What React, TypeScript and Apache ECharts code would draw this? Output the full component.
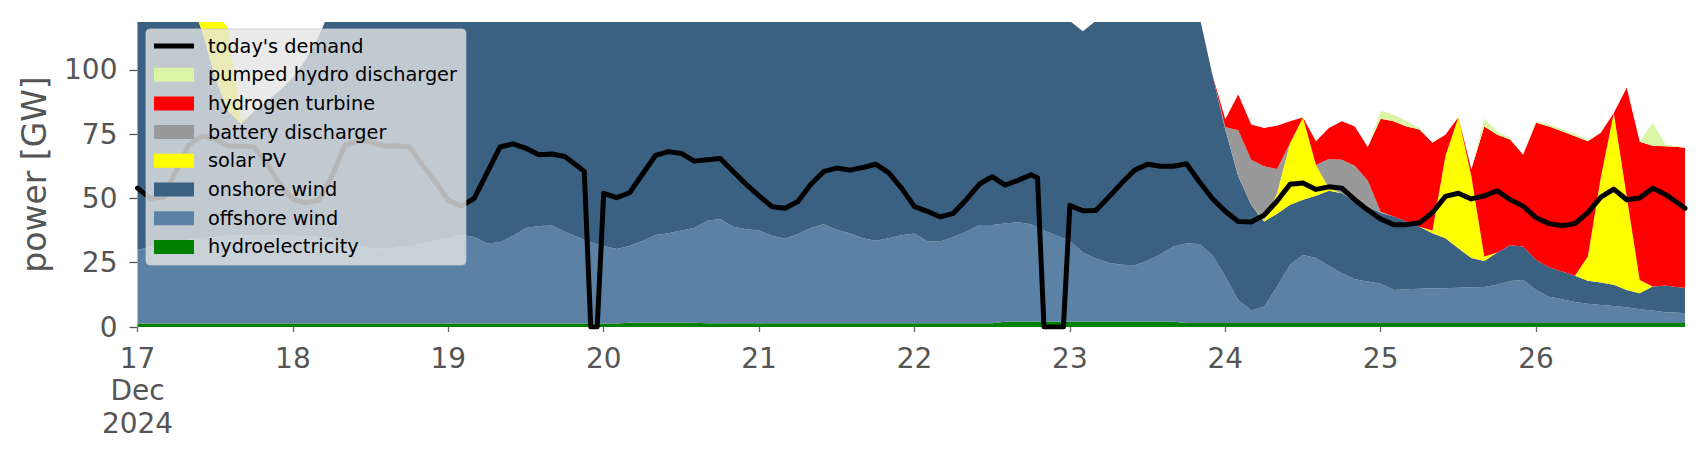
import React, { useEffect, useRef } from "react";
import * as echarts from "echarts";

// hours since 17 Dec 2024 00:00 (2-hourly samples, last one at 26 Dec 23:00)
const hours = [
  0, 2, 4, 6, 8, 10, 12, 14, 16, 18, 20, 22, 24, 26, 28, 30, 32, 34, 36, 38,
  40, 42, 44, 46, 48, 50, 52, 54, 56, 58, 60, 62, 64, 66, 68, 70, 72, 74, 76, 78,
  80, 82, 84, 86, 88, 90, 92, 94, 96, 98, 100, 102, 104, 106, 108, 110, 112, 114, 116, 118,
  120, 122, 124, 126, 128, 130, 132, 134, 136, 138, 140, 142, 144, 146, 148, 150, 152, 154, 156, 158,
  160, 162, 164, 166, 168, 170, 172, 174, 176, 178, 180, 182, 184, 186, 188, 190, 192, 194, 196, 198,
  200, 202, 204, 206, 208, 210, 212, 214, 216, 218, 220, 222, 224, 226, 228, 230, 232, 234, 236, 238,
  239,
];

const hydro = [
  1.4, 1.4, 1.4, 1.4, 1.4, 1.4, 1.4, 1.4, 1.4, 1.4, 1.4, 1.4, 1.4, 1.4, 1.4, 1.4, 1.4, 1.4, 1.4, 1.4,
  1.4, 1.4, 1.4, 1.4, 1.4, 1.4, 1.4, 1.4, 1.4, 1.4, 1.4, 1.4, 1.4, 1.4, 1.4, 1.4, 1.4, 1.4, 1.7, 1.7,
  1.7, 1.7, 1.7, 1.7, 1.5, 1.5, 1.5, 1.5, 1.5, 1.5, 1.5, 1.5, 1.5, 1.5, 1.5, 1.5, 1.5, 1.5, 1.5, 1.5,
  1.5, 1.5, 1.5, 1.5, 1.5, 1.5, 1.5, 2.0, 2.0, 2.0, 2.0, 2.0, 2.0, 2.0, 2.0, 2.0, 2.0, 2.0, 2.0, 2.0,
  2.0, 1.6, 1.6, 1.6, 1.6, 1.6, 1.6, 1.6, 1.6, 1.6, 1.6, 1.6, 1.6, 1.6, 1.6, 1.6, 1.6, 1.6, 1.6, 1.6,
  1.6, 1.6, 1.6, 1.6, 1.6, 1.6, 1.6, 1.6, 1.6, 1.6, 1.6, 1.6, 1.6, 1.6, 1.6, 1.6, 1.6, 1.6, 1.6, 1.6,
  1.6,
];

const offshoreWind = [
  28.6, 29.6, 30.6, 31.6, 32.6, 33.1, 33.6, 34.1, 34.4, 34.4,
  34.2, 34.1, 34.1, 33.9, 33.6, 33.1, 31.6, 30.1, 29.3, 29.1,
  29.4, 30.1, 31.1, 32.1, 33.1, 34.4, 33.6, 31.1, 31.6, 34.1,
  37.1, 37.9, 38.1, 35.6, 33.6, 31.6, 30.1, 28.9, 29.8, 31.8,
  34.1, 34.8, 35.8, 36.8, 39.8, 40.5, 37.5, 36.5, 36.0, 34.0,
  32.8, 34.7, 37.0, 38.5, 36.3, 35.0, 33.0, 32.0, 33.0, 34.2,
  34.9, 31.7, 31.7, 33.5, 35.5, 38.2, 38.2, 38.2, 38.7, 38.0,
  35.5, 33.5, 31.5, 27.0, 24.5, 23.0, 22.2, 22.0, 23.8, 26.3,
  29.3, 30.9, 30.7, 26.4, 18.0, 8.9, 4.8, 6.3, 14.1, 22.6,
  26.4, 25.2, 22.2, 19.3, 17.0, 16.1, 15.2, 12.8, 13.1, 13.3,
  13.5, 13.5, 13.7, 13.9, 14.0, 14.8, 16.3, 16.7, 12.8, 10.2,
  9.2, 8.1, 7.4, 7.0, 6.6, 6.1, 5.3, 4.8, 4.1, 3.9,
  3.7,
];

const onshoreWind = [
  120, 117, 113, 107, 94, 80.5, 62, 48.5, 43.2, 48.2,
  52.4, 56.5, 61.5, 68.7, 78, 90.5, 100, 108, 112, 115,
  118, 120, 121, 120, 118, 115, 113, 112, 110, 108,
  106, 105, 104, 104, 103, 103, 104, 106, 108, 110,
  112, 113, 113, 112, 110, 108, 108, 107, 106, 106,
  106, 105, 104, 103, 104, 105, 106, 107, 106, 104,
  102, 101, 100, 98, 96, 94, 93, 92, 90, 88,
  87, 86, 85.5, 86, 92.5, 110, 120, 126, 124, 120,
  114, 105.5, 88.7, 70.2, 57.2, 48.1, 41.1, 33.1, 28.3, 23.3,
  21.5, 24.2, 29.2, 31.1, 30.2, 29.2, 27.5, 28.6, 26.3, 24.1,
  21.4, 19.4, 15.3, 11.3, 10.1, 12.6, 13.9, 13.0, 11.7, 11.4,
  10.8, 10.2, 9.0, 8.7, 8.2, 6.7, 6.2, 9.3, 10.4, 10.0,
  10.0,
];

const solarPV = [
  0, 0, 0, 0.5, 3, 12, 26, 32, 1, 0,
  0, 0, 0, 0, 0, 0, 0, 0, 0, 0,
  0, 0, 0, 0, 0, 0, 0, 0, 0, 0,
  0, 0, 0, 0, 0, 0, 0, 0, 0, 0,
  0, 0, 0, 0, 0, 0, 0, 0, 0, 0,
  0, 0, 0, 0, 0, 0, 0, 0, 0, 0,
  0, 0, 0, 0, 0, 0, 0, 0, 0, 0,
  0, 0, 0, 0, 0, 0, 0, 0, 0, 0,
  0, 0, 0, 0, 0, 0, 0, 0.5, 8, 24,
  32, 12, 1, 0, 0, 0, 0, 0, 0, 0,
  1, 32, 51, 31.8, 1.7, 0, 0, 0, 0, 0,
  0, 0, 9.4, 40.9, 66.8, 36.4, 5.2, 0, 0, 0,
  0,
];

const batteryDischarger = [
  0, 0, 0, 0, 0, 0, 0, 0, 0, 0,
  0, 0, 0, 0, 0, 0, 0, 0, 0, 0,
  0, 0, 0, 0, 0, 0, 0, 0, 0, 0,
  0, 0, 0, 0, 0, 0, 0, 0, 0, 0,
  0, 0, 0, 0, 0, 0, 0, 0, 0, 0,
  0, 0, 0, 0, 0, 0, 0, 0, 0, 0,
  0, 0, 0, 0, 0, 0, 0, 0, 0, 0,
  0, 0, 0, 0, 0, 0, 0, 0, 0, 0,
  0, 0, 0, 0, 1, 17.9, 17.5, 21, 9.4, 0,
  0, 0, 11.3, 13, 13.9, 10.1, 0.5, 0, 0, 0,
  0, 0, 0, 0, 0, 0, 0, 0, 0, 0,
  0, 0, 0, 0, 0, 0, 0, 0, 0, 0,
  0,
];

const hydrogenTurbine = [
  0, 0, 0, 0, 0, 0, 0, 0, 0, 0,
  0, 0, 0, 0, 0, 0, 0, 0, 0, 0,
  0, 0, 0, 0, 0, 0, 0, 0, 0, 0,
  0, 0, 0, 0, 0, 0, 0, 0, 0, 0,
  0, 0, 0, 0, 0, 0, 0, 0, 0, 0,
  0, 0, 0, 0, 0, 0, 0, 0, 0, 0,
  0, 0, 0, 0, 0, 0, 0, 0, 0, 0,
  0, 0, 0, 0, 0, 0, 0, 0, 0, 0,
  0, 0, 0, 0, 3, 13.9, 13.7, 14.9, 16.9, 8.5,
  0, 9.2, 12.1, 15, 15.3, 13, 36.2, 37, 37, 37.8,
  34.1, 8.3, 0, 2.6, 50.6, 45.8, 41.1, 35.7, 53.3, 54.8,
  54.5, 54.3, 44.8, 17.3, 0, 42.2, 53.7, 54.8, 54.2, 54.5,
  54.3,
];

const pumpedHydro = [
  0, 0, 0, 0, 0, 0, 0, 0, 0, 0,
  0, 0, 0, 0, 0, 0, 0, 0, 0, 0,
  0, 0, 0, 0, 0, 0, 0, 0, 0, 0,
  0, 0, 0, 0, 0, 0, 0, 0, 0, 0,
  0, 0, 0, 0, 0, 0, 0, 0, 0, 0,
  0, 0, 0, 0, 0, 0, 0, 0, 0, 0,
  0, 0, 0, 0, 0, 0, 0, 0, 0, 0,
  0, 0, 0, 0, 0, 0, 0, 0, 0, 0,
  0, 0, 0, 0, 0, 0, 0, 0, 0, 0,
  0, 0, 0, 0, 0, 0, 3, 2.6, 2, 0.6,
  0, 0, 0, 0, 3, 1.3, 0.5, 0, 0.5, 0.8,
  0.8, 0.8, 0.5, 0, 0, 0, 0, 8.9, 0.6, 0.3,
  0,
];

const demandHours = [
  0, 2, 4, 6, 8, 10, 12, 14, 16, 18, 20, 22, 24, 26, 28, 30, 32, 34, 36, 38,
  40, 42, 44, 46, 48, 50, 52, 54, 56, 58, 60, 62, 64, 66, 68, 69, 70, 71, 72, 74,
  76, 78, 80, 82, 84, 86, 88, 90, 92, 94, 96, 98, 100, 102, 104, 106, 108, 110, 112, 114,
  116, 118, 120, 122, 124, 126, 128, 130, 132, 134, 136, 138, 139, 140, 143, 144, 146, 148, 150, 152,
  154, 156, 158, 160, 162, 164, 166, 168, 170, 172, 174, 176, 178, 180, 182, 184, 186, 188, 190, 192,
  194, 196, 198, 200, 202, 204, 206, 208, 210, 212, 214, 216, 218, 220, 222, 224, 226, 228, 230, 232,
  234, 236, 238, 239,
];

const demand = [
  54, 50, 50.5, 61, 71, 74.2, 73, 70.5, 70.3, 70, 63.5, 55.5, 49.5, 48.2, 49.3, 58.5, 70.5, 72.5, 72, 70.3,
  70.5, 70, 63, 56.5, 49.3, 47, 50, 60, 70, 71.2, 69.5, 67, 67.3, 66.3, 62.5, 60.5, 0, 0, 52, 50.3,
  52.2, 59.5, 66.7, 68.2, 67.5, 64.5, 65, 65.5, 60.5, 55.5, 51, 46.8, 46.2, 48.8, 55.5, 60.5, 61.8, 61, 62, 63.3,
  60, 54, 46.8, 45, 42.8, 44.2, 49.5, 55.5, 58.5, 55.2, 57, 59.2, 58, 0, 0, 47.3, 45.2, 45.3, 50.5, 56,
  61, 63.3, 62.5, 62.5, 63.5, 56.5, 50, 45, 41, 40.8, 43.5, 49, 55.5, 56, 53.5, 54.5, 54, 49.5, 45.5, 42,
  39.8, 39.8, 40.5, 44.5, 50.8, 52, 49.8, 51, 53, 49.5, 47, 42.5, 40.2, 39.4, 40.2, 44.5, 50.5, 53.6, 49.5, 50.2,
  54, 51.5, 48, 46.2,
];

const dayLabels = ["17\nDec\n2024", "18", "19", "20", "21", "22", "23", "24", "25", "26"];
const yTicks = [0, 25, 50, 75, 100];

const START = new Date(2024, 11, 17, 0, 0, 0).getTime();
const HOUR = 3600 * 1000;
const toTime = (h: number) => START + h * HOUR;

export default function App() {
  const ref = useRef<HTMLDivElement>(null);

  useEffect(() => {
    if (!ref.current) return;
    const chart = echarts.init(ref.current, null, { renderer: "svg" });
    const font = "DejaVu Sans";
    const toPairs = (xs: number[], vals: number[]) => xs.map((h, i) => [toTime(h), vals[i]]);

    const layers = [
      { name: "hydroelectricity", values: hydro, color: "#008000" },
      { name: "offshore wind", values: offshoreWind, color: "#5b82a5" },
      { name: "onshore wind", values: onshoreWind, color: "#3b6182" },
      { name: "solar PV", values: solarPV, color: "#ffff00" },
      { name: "battery discharger", values: batteryDischarger, color: "#999999" },
      { name: "hydrogen turbine", values: hydrogenTurbine, color: "#ff0000" },
      { name: "pumped hydro discharger", values: pumpedHydro, color: "#d9f5a5" },
    ];

    const areaSeries = layers.map((l) => ({
      name: l.name,
      type: "line",
      stack: "generation",
      stackStrategy: "all",
      data: toPairs(hours, l.values),
      symbol: "none",
      showSymbol: false,
      lineStyle: { width: 0, color: l.color },
      itemStyle: { color: l.color },
      areaStyle: { color: l.color, opacity: 1 },
      emphasis: { disabled: true },
      silent: true,
      z: 2,
    }));

    const lineIcon =
      "path://M0,0H0.01V0.01H0Z M0,4.6H40V9.4H0Z M39.99,13.99H40V14H39.99Z";

    const legendData = [
      { name: "today's demand", icon: lineIcon, itemStyle: { color: "#000000" } },
      ...layers
        .slice()
        .reverse()
        .map((l) => ({ name: l.name, icon: "rect", itemStyle: { color: l.color } })),
    ];

    const labelFor = (v: number) => {
      const h = Math.round((v - START) / HOUR);
      if (h % 24 !== 0) return "";
      return dayLabels[h / 24] ?? "";
    };

    chart.setOption({
      animation: false,
      backgroundColor: "#ffffff",
      grid: { left: 137.5, right: 21, top: 22, bottom: 133, outerBoundsMode: "none" },
      legend: {
        show: true,
        orient: "vertical",
        left: 146,
        top: 29,
        padding: [7, 9, 8, 8],
        itemWidth: 40,
        itemHeight: 14,
        itemGap: 8.7,
        selectedMode: false,
        backgroundColor: "rgba(229,229,229,0.8)",
        borderColor: "rgba(204,204,204,0.8)",
        borderWidth: 1,
        borderRadius: 4,
        textStyle: {
          fontFamily: font,
          fontSize: 19.3,
          color: "#000000",
          lineHeight: 20,
          padding: [0, 0, 0, 9],
        },
        data: legendData,
      },
      xAxis: {
        type: "time",
        min: toTime(0),
        max: toTime(239),
        minInterval: 24 * HOUR,
        maxInterval: 24 * HOUR,
        axisLine: { show: false },
        splitLine: { show: false },
        axisTick: {
          show: true,
          length: 5,
          lineStyle: { color: "#666666", width: 1.3 },
        },
        axisLabel: {
          formatter: (v: number) => labelFor(v),
          fontFamily: font,
          fontSize: 28,
          lineHeight: 32.5,
          color: "#555555",
          fontWeight: "normal",
          margin: 15,
          hideOverlap: false,
          showMinLabel: true,
        },
      },
      yAxis: {
        type: "value",
        min: 0,
        max: 118.6,
        axisLine: { show: false },
        splitLine: { show: false },
        axisTick: {
          show: true,
          length: 8,
          customValues: yTicks,
          lineStyle: { color: "#555555", width: 1.3 },
        },
        axisLabel: {
          customValues: yTicks,
          fontFamily: font,
          fontSize: 28,
          color: "#555555",
          margin: 20,
        },
        name: "power [GW]",
        nameLocation: "middle",
        nameGap: 87,
        nameTextStyle: { fontFamily: font, fontSize: 33, color: "#555555" },
      },
      series: [
        ...areaSeries,
        {
          name: "today's demand",
          type: "line",
          data: toPairs(demandHours, demand),
          symbol: "none",
          showSymbol: false,
          lineStyle: { color: "#000000", width: 5, join: "round", cap: "round" },
          itemStyle: { color: "#000000" },
          emphasis: { disabled: true },
          silent: true,
          z: 3,
        },
      ],
    });

    return () => {
      chart.dispose();
    };
  }, []);

  return (
    <div
      ref={ref}
      style={{ position: "fixed", left: 0, top: 0, width: "1706px", height: "460px" }}
    />
  );
}
